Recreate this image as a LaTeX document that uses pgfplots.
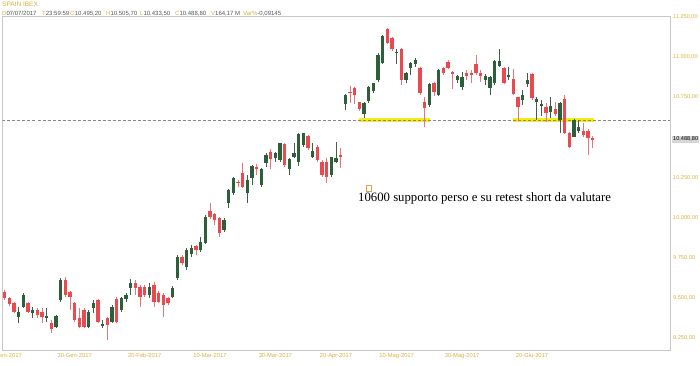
\documentclass[border=0pt]{standalone}
\usepackage{fontspec}
\setmainfont{Liberation Sans}
\newfontfamily\seriffont{Liberation Serif}
\usepackage{pgfplots}
\pgfplotsset{compat=1.18}
\usepackage{pgfplotstable}
\definecolor{cRed}{HTML}{E84A4F}
\definecolor{cRedW}{HTML}{E8767C}
\definecolor{cGreen}{HTML}{2E5E3A}
\definecolor{cGreenW}{HTML}{40604A}
\definecolor{cGold}{HTML}{D9B040}
\definecolor{cFrame}{HTML}{C8C8C8}
\definecolor{cYellow}{HTML}{F2EC1C}
\definecolor{cDash}{HTML}{888888}
\definecolor{cBox}{HTML}{D6D6D6}
\definecolor{cTxt}{HTML}{555555}
\definecolor{cOrange}{HTML}{E0A050}
\def\lastlbl{10.488,80}

\pgfplotstableread{
i o h l c
0 9540 9550 9488 9498
1 9498 9508 9451 9461
2 9467 9477 9405 9415
5 9469 9477 9405 9415
7 9426 9438 9376 9395
8 9415 9438 9345 9384
10 9347 9364 9285 9306
13 9612 9633 9508 9519
14 9536 9544 9426 9505
15 9471 9477 9353 9364
16 9374 9438 9314 9322
17 9426 9438 9314 9322
20 9488 9492 9343 9353
22 9374 9384 9239 9332
24 9492 9505 9347 9353
28 9592 9612 9520 9561
29 9571 9581 9446 9508
30 9571 9581 9508 9519
32 9581 9602 9446 9477
33 9531 9544 9469 9477
34 9519 9531 9384 9457
35 9500 9508 9457 9469
38 9757 9768 9706 9716
41 9824 9830 9768 9799
44 10043 10093 9990 10002
45 10021 10027 9954 9985
46 9996 10006 9882 9903
50 10224 10234 10193 10214
51 10276 10338 10183 10193
54 10313 10334 10265 10301
57 10410 10425 10301 10363
60 10456 10463 10317 10328
65 10508 10514 10421 10431
67 10441 10452 10348 10359
68 10348 10359 10255 10265
69 10348 10369 10214 10255
72 10390 10431 10307 10379
74 10784 10819 10715 10774
75 10805 10815 10707 10763
76 10718 10721 10665 10674
82 11172 11178 11080 11088
83 11116 11122 11037 11047
85 11047 11053 10825 10856
89 10929 10939 10763 10774
90 10721 10752 10566 10680
92 10839 10846 10757 10784
94 10929 10939 10887 10898
95 10970 10981 10923 10929
96 10908 10914 10798 10898
99 10898 10918 10856 10881
100 10902 10918 10836 10887
101 10956 11012 10887 10898
102 10898 10918 10846 10881
107 10929 10935 10831 10836
109 10861 10923 10763 10769
110 10749 10752 10608 10690
113 10894 10898 10732 10742
116 10690 10711 10597 10649
118 10674 10721 10632 10645
120 10736 10763 10520 10528
121 10525 10535 10431 10438
124 10541 10587 10504 10514
125 10541 10550 10390 10494
126 10495.2 10505.7 10433.5 10488.8
}\redtab

\pgfplotstableread{
i o h l c
3 9380 9446 9347 9415
4 9446 9531 9438 9519
6 9405 9446 9374 9426
9 9380 9438 9353 9388
11 9322 9395 9314 9388
12 9488 9625 9477 9612
18 9322 9426 9314 9415
19 9436 9488 9405 9467
21 9328 9364 9312 9339
23 9353 9457 9345 9446
25 9426 9508 9415 9498
26 9492 9531 9477 9519
27 9561 9617 9520 9592
31 9520 9594 9500 9571
36 9508 9575 9498 9562
37 9623 9768 9612 9757
39 9695 9811 9674 9799
40 9774 9830 9757 9809
42 9799 9882 9788 9850
43 9841 10017 9836 10006
47 9923 9998 9913 9985
48 10089 10178 10062 10172
49 10152 10255 10141 10245
52 10152 10265 10093 10234
53 10245 10328 10203 10321
55 10203 10307 10189 10301
56 10342 10400 10313 10390
58 10369 10410 10348 10404
59 10359 10466 10348 10463
61 10301 10369 10265 10363
62 10379 10463 10369 10400
63 10348 10528 10321 10520
64 10452 10528 10441 10525
66 10379 10463 10369 10417
70 10265 10379 10255 10375
71 10348 10473 10338 10369
73 10707 10769 10670 10763
77 10645 10721 10618 10711
78 10726 10819 10715 10815
79 10788 10839 10777 10836
80 10856 11022 10846 11012
81 10964 11136 10956 11130
84 11026 11047 10956 11032
86 10856 10908 10836 10902
87 10929 10970 10887 10960
88 10956 10991 10939 10981
91 10701 10839 10690 10831
93 10763 10923 10757 10918
97 10856 10887 10836 10881
98 10815 10908 10794 10877
103 10856 10894 10825 10881
104 10805 10881 10763 10873
105 10836 10981 10825 10976
106 10943 11047 10935 10976
108 10873 10935 10856 10887
111 10732 10794 10701 10763
112 10831 10898 10815 10856
114 10719 10752 10608 10736
115 10698 10732 10632 10707
117 10659 10752 10618 10695
119 10608 10721 10525 10711
122 10504 10612 10500 10608
123 10541 10608 10528 10566
}\greentab

\begin{document}
\begin{tikzpicture}[x=1pt,y=1pt]
\begin{axis}[
  at={(2.5pt,15.5pt)}, anchor=south west,
  scale only axis, width=667.5pt, height=333.8pt,
  xmin=-0.465, xmax=142.56, ymin=9174, ymax=11250,
  axis line style={draw=cFrame, line width=0.8pt},
  major tick length=0pt,
  scaled y ticks=false, scaled x ticks=false,
  xtick={0,15,30,44,58,71,84,98,113},
  xticklabels={09-Gen-2017,30-Gen-2017,20-Feb-2017,10-Mar-2017,30-Mar-2017,20-Apr-2017,10-Mag-2017,30-Mag-2017,20-Giu-2017},
  xticklabel style={font=\fontsize{5.8}{6}\selectfont, text=cGold, anchor=north, inner sep=0pt, yshift=-2.5pt},
  ytick={9250,9500,9750,10000,10250,10500,10750,11000,11250},
  yticklabels={{9.250,00},{9.500,00},{9.750,00},{10.000,00},{10.250,00},{},{10.750,00},{11.000,00},{11.250,00}},
  yticklabel pos=right,
  yticklabel style={font=\fontsize{5.6}{6}\selectfont, text=cGold, anchor=west, inner sep=0pt, xshift=3pt},
  extra y ticks={10488.8},
  extra y tick labels={\lastlbl},
  extra y tick style={yticklabel style={fill=cBox, text=black, inner sep=1.2pt, xshift=-1.2pt}},
]
% support highlights
\addplot[cYellow, line width=4pt] coordinates {(75.9,10605) (91.1,10605)};
\addplot[cYellow, line width=4pt] coordinates {(108.9,10605) (126.2,10605)};
\addplot[cDash, line width=0.8pt, dash pattern=on 3pt off 2pt] coordinates {(-0.465,10605) (142.56,10605)};
% wicks
\addplot[draw=none, mark=none, error bars/.cd, y dir=both, y explicit, error mark=none,
  error bar style={draw=cRedW, line width=0.9pt}]
  table[x=i, y expr={(\thisrow{h}+\thisrow{l})/2}, y error expr={(\thisrow{h}-\thisrow{l})/2}] {\redtab};
\addplot[draw=none, mark=none, error bars/.cd, y dir=both, y explicit, error mark=none,
  error bar style={draw=cGreenW, line width=0.9pt}]
  table[x=i, y expr={(\thisrow{h}+\thisrow{l})/2}, y error expr={(\thisrow{h}-\thisrow{l})/2}] {\greentab};
% bodies
\addplot[draw=none, mark=none, error bars/.cd, y dir=both, y explicit, error mark=none,
  error bar style={draw=cRed, line width=3.2pt}]
  table[x=i, y expr={(\thisrow{o}+\thisrow{c})/2}, y error expr={abs(\thisrow{o}-\thisrow{c})/2}] {\redtab};
\addplot[draw=none, mark=none, error bars/.cd, y dir=both, y explicit, error mark=none,
  error bar style={draw=cGreen, line width=3.2pt}]
  table[x=i, y expr={(\thisrow{o}+\thisrow{c})/2}, y error expr={abs(\thisrow{o}-\thisrow{c})/2}] {\greentab};
\end{axis}
% header
\node[anchor=north west, inner sep=0pt, text=cGold, font=\fontsize{6.5}{7}\selectfont] at (2,364) {SPAIN IBEX};
\begin{scope}[every node/.style={anchor=west, inner sep=0pt, font=\fontsize{6}{7}\selectfont}]
\node at (2,352.5) {\textcolor{cGold}{D}\textcolor{cTxt}{07/07/2017}};
\node at (42,352.5) {\textcolor{cGold}{T}\textcolor{cTxt}{23:59:59}};
\node at (70,352.5) {\textcolor{cGold}{O}\textcolor{cTxt}{10.495,20}};
\node at (106,352.5) {\textcolor{cGold}{H}\textcolor{cTxt}{10.505,70}};
\node at (140,352.5) {\textcolor{cGold}{L}\textcolor{cTxt}{10.433,50}};
\node at (175,352.5) {\textcolor{cGold}{C}\textcolor{cTxt}{10.488,80}};
\node at (211,352.5) {\textcolor{cGold}{V}\textcolor{cTxt}{164,17 M}};
\node at (243,352.5) {\textcolor{cGold}{Var\%}\textcolor{cTxt}{ -0,09145}};
\end{scope}
% annotation
\draw[cOrange, line width=0.6pt, fill=white] (366,174.5) rectangle (371.5,180.3);
\node[anchor=west, inner sep=0pt, font=\seriffont\fontsize{12.75}{14}\selectfont] at (358,167.5) {10600 supporto perso e su retest short da valutare};
\pgfresetboundingbox
\path[use as bounding box] (0,0) rectangle (700,366);
\end{tikzpicture}
\end{document}
